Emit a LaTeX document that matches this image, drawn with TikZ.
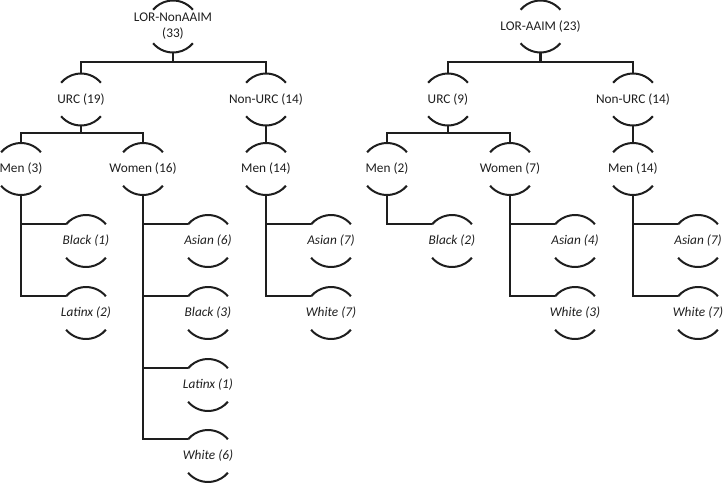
\documentclass[tikz,border=0pt]{standalone}
\usepackage{fontspec}
\setmainfont{Carlito}
\definecolor{ink}{HTML}{1E1E1E}
\definecolor{txt}{HTML}{1E1E1E}
\begin{document}
\begin{tikzpicture}[x=1pt,y=1pt,
  tn/.style={rectangle, inner sep=0pt, minimum width=52pt, minimum height=52pt,
             font=\fontsize{13.3}{16}\selectfont, text=txt, align=center},
  lf/.style={tn, font=\fontsize{13.3}{16}\selectfont\itshape},
  conn/.style={draw=ink, line width=2.1pt},
  arcs/.style={draw=ink, line width=2pt}]
\useasboundingbox (0,0) rectangle (723,-483);
% left tree
\node[tn] (r1) at (173,-26.5) {LOR-NonAAIM\\(33)};
\node[tn] (u1) at (81,-99.5) {URC (19)};
\node[tn] (n1) at (266,-99.5) {Non-URC (14)};
\node[tn] (m1) at (21,-169) {Men (3)};
\node[tn] (w1) at (143,-169) {Women (16)};
\node[tn] (m2) at (266,-169) {Men (14)};
\node[lf] (l1) at (86,-241) {Black (1)};
\node[lf] (l2) at (86,-313) {Latinx (2)};
\node[lf] (l3) at (208,-241) {Asian (6)};
\node[lf] (l4) at (208,-313) {Black (3)};
\node[lf] (l5) at (208,-385) {Latinx (1)};
\node[lf] (l6) at (208,-456) {White (6)};
\node[lf] (l7) at (331,-241) {Asian (7)};
\node[lf] (l8) at (331,-313) {White (7)};
% right tree
\node[tn] (r2) at (540.5,-26.5) {LOR-AAIM (23)};
\node[tn] (u2) at (448,-99.5) {URC (9)};
\node[tn] (n2) at (633,-99.5) {Non-URC (14)};
\node[tn] (m3) at (387,-169) {Men (2)};
\node[tn] (w2) at (510,-169) {Women (7)};
\node[tn] (m4) at (633,-169) {Men (14)};
\node[lf] (k1) at (452,-241) {Black (2)};
\node[lf] (k2) at (575,-241) {Asian (4)};
\node[lf] (k3) at (575,-313) {White (3)};
\node[lf] (k4) at (698,-241) {Asian (7)};
\node[lf] (k5) at (698,-313) {White (7)};
% arcs
\foreach \n in {r1,u1,n1,m1,w1,m2,l1,l2,l3,l4,l5,l6,l7,l8,r2,u2,n2,m3,w2,m4,k1,k2,k3,k4,k5}{
  \draw[arcs] ([shift={(40:26)}]\n.center) arc (40:140:26);
  \draw[arcs] ([shift={(220:26)}]\n.center) arc (220:320:26);
}
% connectors left
\draw[conn] (r1.south) -- ++(0,-9.5);
\draw[conn] (u1.north) -- ++(0,11.5) -| (n1.north);
\draw[conn] (u1.south) -- ++(0,-7.5);
\draw[conn] (m1.north) -- ++(0,10) -| (w1.north);
\draw[conn] (n1.south) -- (m2.north);
\foreach \p/\c in {m1/l1,m1/l2,w1/l3,w1/l4,w1/l5,w1/l6,m2/l7,m2/l8}{
  \draw[conn] (\p.south) |- ([shift={(140:26)}]\c.center);
}
% connectors right
\draw[conn] (r2.south) -- ++(0,-9.5);
\draw[conn] (u2.north) -- ++(0,11.5) -| (n2.north);
\draw[conn] (u2.south) -- ++(0,-7.5);
\draw[conn] (m3.north) -- ++(0,10) -| (w2.north);
\draw[conn] (n2.south) -- (m4.north);
\foreach \p/\c in {m3/k1,w2/k2,w2/k3,m4/k4,m4/k5}{
  \draw[conn] (\p.south) |- ([shift={(140:26)}]\c.center);
}
\end{tikzpicture}
\end{document}
